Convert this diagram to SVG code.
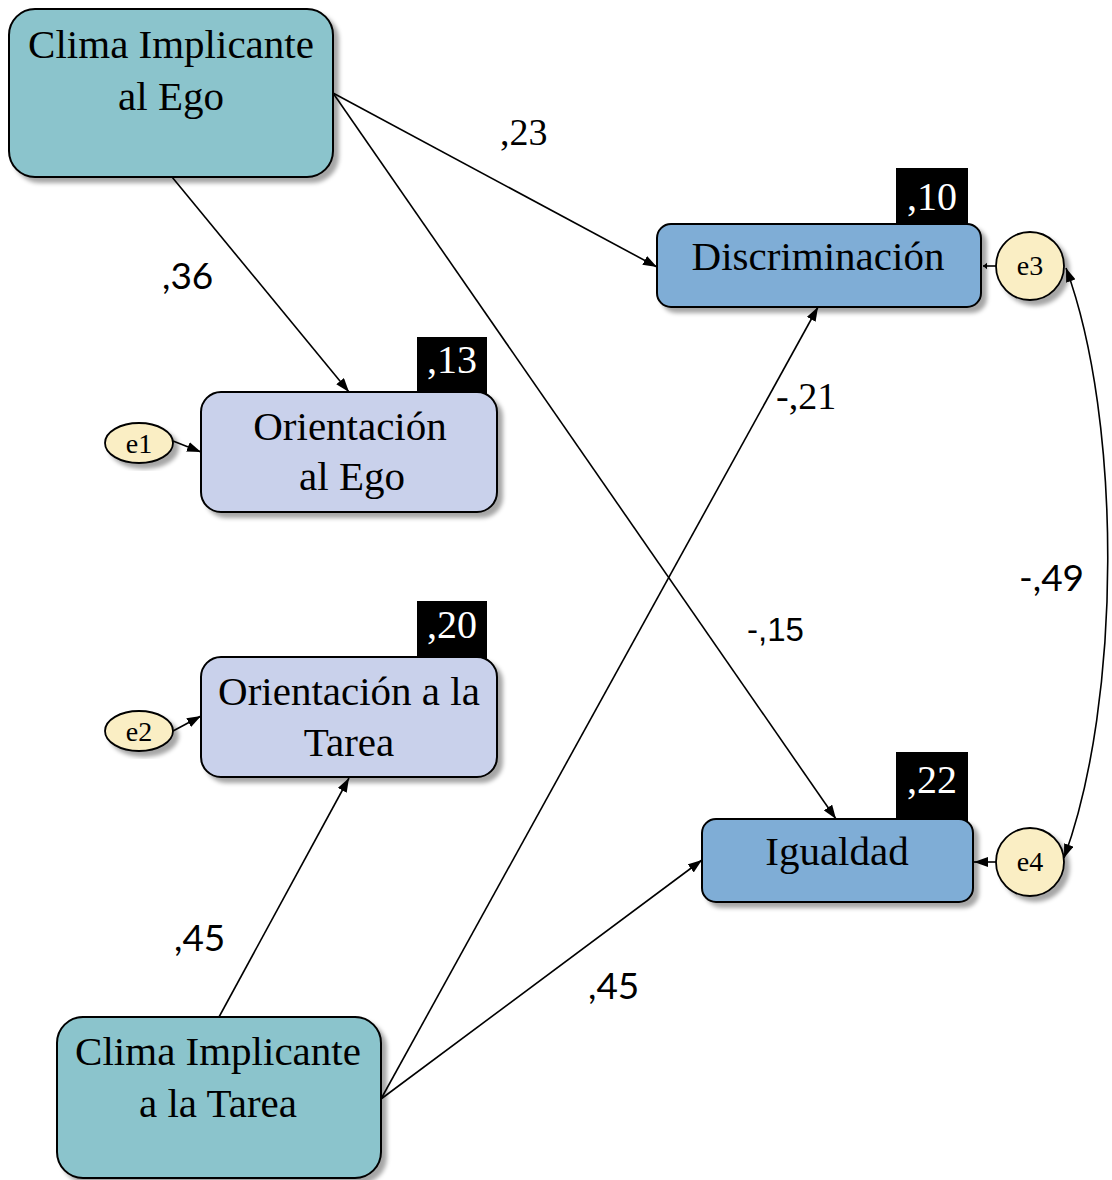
<svg xmlns="http://www.w3.org/2000/svg" width="1112" height="1180" viewBox="0 0 1112 1180">
  <defs>
    <filter id="shadow" x="-10%" y="-10%" width="130%" height="130%">
      <feDropShadow dx="5" dy="5" stdDeviation="2" flood-color="#000" flood-opacity="0.35"/>
    </filter>
    <marker id="arrow" viewBox="0 0 14 10" refX="14" refY="5" markerWidth="14" markerHeight="10" markerUnits="userSpaceOnUse" orient="auto-start-reverse">
      <path d="M0,0 L14,5 L0,10 Z" fill="#000"/>
    </marker>
    <marker id="arrowSmall" viewBox="0 0 6 10" refX="6" refY="5" markerWidth="4" markerHeight="10" markerUnits="userSpaceOnUse" orient="auto">
      <path d="M0,0 L6,5 L0,10 Z" fill="#000"/>
    </marker>
  </defs>
  <style>
    .node { stroke: #000; stroke-width: 2; filter: url(#shadow); }
    .exo { fill: #8bc4cc; }
    .mid { fill: #c9d1eb; }
    .out { fill: #7fadd6; }
    .err { fill: #faeec4; stroke: #000; stroke-width: 1.8; filter: url(#shadow); }
    .name { font-family: "Liberation Serif", "DejaVu Serif", serif; font-size: 41px; fill: #000; text-anchor: middle; }
    .ename { font-family: "Liberation Serif", "DejaVu Serif", serif; font-size: 28px; fill: #000; text-anchor: middle; }
    .r2box { fill: #000; }
    .r2 { font-family: "Liberation Serif", "DejaVu Serif", serif; font-size: 40px; fill: #fff; text-anchor: middle; }
    .edge { fill: none; stroke: #000; stroke-width: 1.6; }
    .coefSerif { font-family: "Liberation Serif", "DejaVu Serif", serif; font-size: 38px; fill: #000; }
    .coefSans { font-family: Lato, "Open Sans", sans-serif; font-size: 37px; fill: #000; }
    .coefArial { font-family: "Liberation Sans", Arial, sans-serif; font-size: 33px; fill: #000; }
  </style>

  <!-- paths between variables -->
  <g id="connectors">
    <line class="edge" x1="333" y1="93" x2="657" y2="267" marker-end="url(#arrow)"/>
    <line class="edge" x1="172" y1="177" x2="349" y2="392" marker-end="url(#arrow)"/>
    <line class="edge" x1="333" y1="93" x2="836" y2="819" marker-end="url(#arrow)"/>
    <line class="edge" x1="219" y1="1017" x2="349" y2="778" marker-end="url(#arrow)"/>
    <line class="edge" x1="381" y1="1099" x2="818" y2="307" marker-end="url(#arrow)"/>
    <line class="edge" x1="381" y1="1099" x2="702" y2="860" marker-end="url(#arrow)"/>
    <line class="edge" x1="173" y1="441" x2="201" y2="452" marker-end="url(#arrow)"/>
    <line class="edge" x1="173" y1="731" x2="201" y2="716" marker-end="url(#arrow)"/>
    <line class="edge" x1="996" y1="266" x2="983" y2="266" marker-end="url(#arrowSmall)"/>
    <line class="edge" x1="996" y1="862" x2="974" y2="862" marker-end="url(#arrow)"/>
    <path class="edge" d="M1066,268 C1122,420 1122,700 1064,858" marker-start="url(#arrow)" marker-end="url(#arrow)"/>
  </g>

  <!-- path coefficients -->
  <g id="coefficients">
    <text class="coefSerif" x="500" y="145">,23</text>
    <text class="coefSans" x="162" y="289">,36</text>
    <text class="coefArial" x="747" y="641">-,15</text>
    <text class="coefSerif" x="776" y="409">-,21</text>
    <text class="coefSans" x="174" y="951">,45</text>
    <text class="coefSans" x="588" y="999">,45</text>
    <text class="coefSans" x="1019" y="591">-,49</text>
  </g>

  <g id="clima-ego">
    <rect class="node exo" x="9" y="9" width="324" height="168" rx="26"/>
    <text class="name" x="171" y="58">Clima Implicante</text>
    <text class="name" x="171" y="110">al Ego</text>
  </g>

  <g id="orientacion-ego">
    <rect class="r2box" x="417" y="337" width="70" height="58"/>
    <text class="r2" x="452" y="373">,13</text>
    <rect class="node mid" x="201" y="392" width="296" height="120" rx="20"/>
    <text class="name" x="350" y="440">Orientación</text>
    <text class="name" x="352" y="490">al Ego</text>
  </g>

  <g id="e1">
    <ellipse class="err" cx="139" cy="443" rx="34" ry="20"/>
    <text class="ename" x="139" y="453">e1</text>
  </g>

  <g id="orientacion-tarea">
    <rect class="r2box" x="417" y="601" width="70" height="58"/>
    <text class="r2" x="452" y="638">,20</text>
    <rect class="node mid" x="201" y="657" width="296" height="120" rx="20"/>
    <text class="name" x="349" y="705">Orientación a la</text>
    <text class="name" x="349" y="756">Tarea</text>
  </g>

  <g id="e2">
    <ellipse class="err" cx="139" cy="731" rx="34" ry="20"/>
    <text class="ename" x="139" y="741">e2</text>
  </g>

  <g id="clima-tarea">
    <rect class="node exo" x="57" y="1017" width="324" height="161" rx="26"/>
    <text class="name" x="218" y="1065">Clima Implicante</text>
    <text class="name" x="218" y="1117">a la Tarea</text>
  </g>

  <g id="discriminacion">
    <rect class="r2box" x="896" y="168" width="72" height="58"/>
    <text class="r2" x="932" y="210">,10</text>
    <rect class="node out" x="657" y="224" width="324" height="83" rx="14"/>
    <text class="name" x="818" y="270">Discriminación</text>
  </g>

  <g id="e3">
    <circle class="err" cx="1030" cy="266" r="34"/>
    <text class="ename" x="1030" y="275">e3</text>
  </g>

  <g id="igualdad">
    <rect class="r2box" x="896" y="752" width="72" height="70"/>
    <text class="r2" x="932" y="793">,22</text>
    <rect class="node out" x="702" y="819" width="271" height="83" rx="14"/>
    <text class="name" x="837" y="865">Igualdad</text>
  </g>

  <g id="e4">
    <circle class="err" cx="1030" cy="862" r="34"/>
    <text class="ename" x="1030" y="871">e4</text>
  </g>
</svg>
